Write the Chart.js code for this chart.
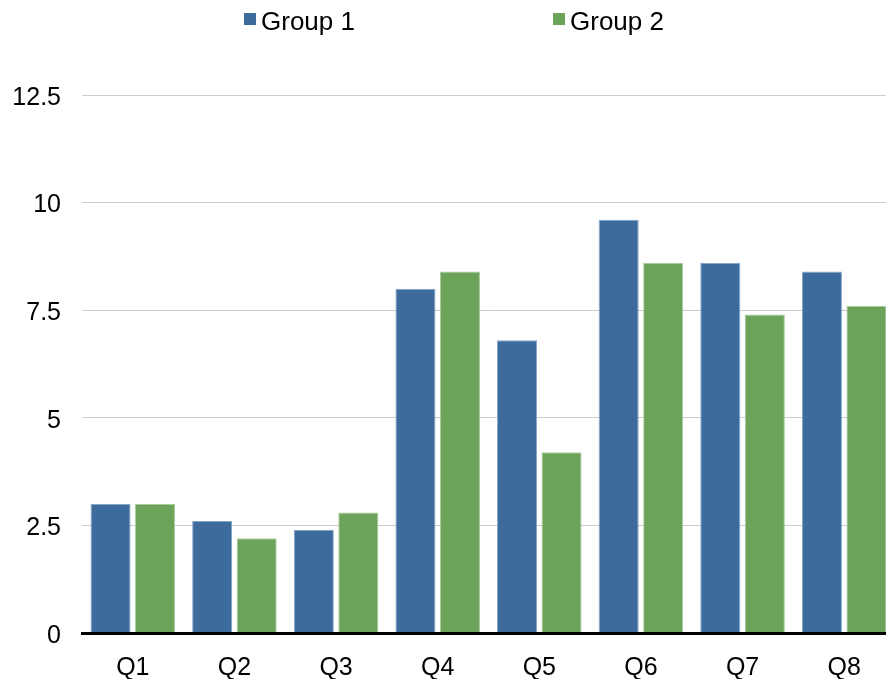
<!DOCTYPE html>
<html>
<head>
<meta charset="utf-8">
<script src="https://cdn.jsdelivr.net/npm/chart.js@4/dist/chart.umd.min.js"></script>
<style>
    html, body { margin: 0; padding: 0; background: #ffffff; overflow: hidden; }
    /* plot runs a little past the right edge of the window, as in the original */
    #wrap { width: 895px; height: 679px; position: relative; }
</style>
</head>
<body>
<div id="wrap"><canvas id="quarter-chart"></canvas></div>
<script>
// Chart data
const quarters = ['Q1', 'Q2', 'Q3', 'Q4', 'Q5', 'Q6', 'Q7', 'Q8'];
const group1Values = [3.0, 2.6, 2.4, 8.0, 6.8, 9.6, 8.6, 8.4];
const group2Values = [3.0, 2.2, 2.8, 8.4, 4.2, 8.6, 7.4, 7.6];
const seriesNames = ['Group 1', 'Group 2'];
const yTicks = [0, 2.5, 5, 7.5, 10, 12.5];

const FONT = '"Liberation Sans", Arial, Helvetica, sans-serif';

// Legend drawn by hand, the two items sit far apart
const spacedLegend = {
    id: 'spacedLegend',
    afterDraw(chart) {
        const ctx = chart.ctx;
        const slots = [244, 553];
        ctx.save();
        ctx.font = '26px ' + FONT;
        ctx.textBaseline = 'middle';
        ctx.textAlign = 'left';
        chart.data.datasets.forEach(function(ds, i) {
            const x = slots[i];
            ctx.fillStyle = ds.backgroundColor;
            ctx.fillRect(x, 13, 12, 12);
            ctx.fillStyle = '#000000';
            ctx.fillText(ds.label, x + 17, 23);
        });
        ctx.restore();
    }
};

new Chart(document.getElementById('quarter-chart'), {
    type: 'bar',
    data: {
        labels: quarters,
        datasets: [{
            label: seriesNames[0],
            data: group1Values,
            backgroundColor: '#3c6b9c',
            borderColor: '#86a6c8',
            borderWidth: 1,
            borderSkipped: 'bottom'
        }, {
            label: seriesNames[1],
            data: group2Values,
            backgroundColor: '#6ca35b',
            borderColor: '#a8cc9c',
            borderWidth: 1,
            borderSkipped: 'bottom'
        }]
    },
    options: {
        responsive: true,
        maintainAspectRatio: false,
        animation: false,
        categoryPercentage: 0.876,
        barPercentage: 0.9,
        layout: {
            padding: { top: 95, right: 0, bottom: 0, left: 0 }
        },
        plugins: {
            legend: { display: false },
            tooltip: { enabled: false }
        },
        scales: {
            x: {
                grid: { display: false, drawTicks: false },
                border: { display: true, color: '#000000', width: 3, z: 1 },
                ticks: {
                    color: '#000000',
                    padding: 20,
                    font: { family: FONT, size: 25 }
                },
                afterFit: function(s) { s.height = 46; }
            },
            y: {
                min: 0,
                max: 12.5,
                afterBuildTicks: function(s) {
                    s.ticks = yTicks.map(v => ({ value: v }));
                },
                grid: { color: '#cccccc', lineWidth: 1, drawTicks: false },
                border: { display: false },
                ticks: {
                    color: '#000000',
                    padding: 21,
                    labelOffset: 3,
                    font: { family: FONT, size: 25 }
                },
                afterFit: function(s) { s.width = 82; }
            }
        }
    },
    plugins: [spacedLegend]
});
</script>
</body>
</html>
